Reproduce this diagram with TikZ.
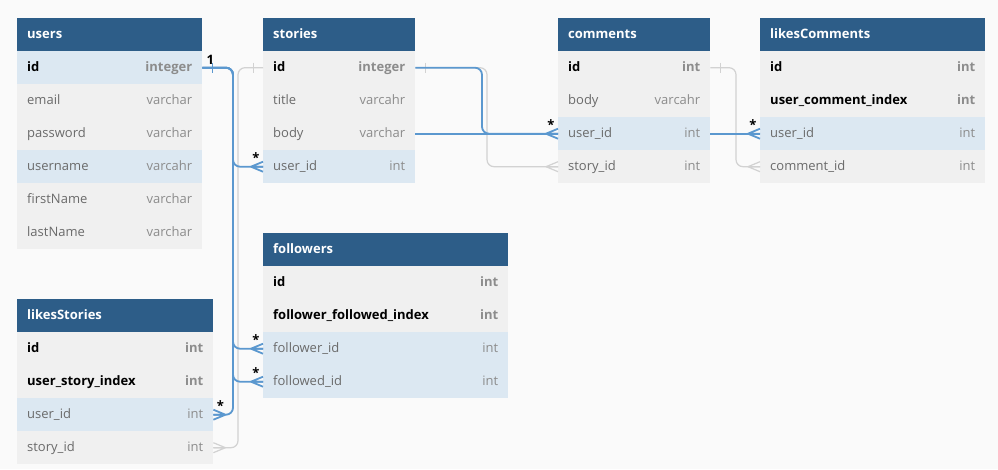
\documentclass[tikz,border=0pt]{standalone}
\usepackage{fontspec}
\setmainfont{Open Sans}
\newcommand\dbfont{\fontsize{13}{16}\selectfont}
\definecolor{headblue}{HTML}{2D5D88}
\definecolor{rowgray}{HTML}{F0F0F0}
\definecolor{rowblue}{HTML}{DCE8F2}
\definecolor{linkblue}{HTML}{5B98CF}
\definecolor{linkgray}{HTML}{D2D2D2}
\definecolor{bgcol}{HTML}{FAFAFA}
\definecolor{fieldgray}{HTML}{6A6A6A}
\definecolor{typegray}{HTML}{8C8C8C}
\tikzset{foot/.pic={\draw (-12,0) -- (0,-5) (-12,0) -- (0,0) (-12,0) -- (0,5);}}

\begin{document}
\begin{tikzpicture}[x=1pt, y=-1pt,
  head/.style={rectangle, fill=headblue, anchor=north west, minimum height=33, inner sep=0pt},
  row/.style={rectangle, fill=rowgray, anchor=north west, minimum height=33, inner sep=0pt},
  hot/.style={row, fill=rowblue},
  title/.style={anchor=mid west, yshift=-1.5pt, text=white, font=\dbfont\bfseries, inner sep=0pt},
  fld/.style={anchor=mid west, yshift=-1.5pt, text=fieldgray, font=\dbfont, inner sep=0pt},
  key/.style={anchor=mid west, yshift=-1.5pt, text=black, font=\dbfont\bfseries, inner sep=0pt},
  typ/.style={anchor=mid east, yshift=-1.5pt, text=typegray, font=\dbfont, inner sep=0pt},
  keytyp/.style={anchor=mid east, yshift=-1.5pt, text=typegray, font=\dbfont\bfseries, inner sep=0pt},
  bluelink/.style={draw=linkblue, line width=1.8pt, rounded corners=7pt},
  graylink/.style={draw=linkgray, line width=1.2pt, rounded corners=7pt},
  card/.style={font=\dbfont\bfseries, inner sep=0pt}]
  \fill[bgcol] (0,0) rectangle (998,469);

  % users
  \node[head, minimum width=185] (users) at (17,18) {};
  \node[title] (users-name) at ([xshift=10pt]users.west) {users};
  \foreach \fn/\ty/\st/\fs/\ts [count=\i] in {id/integer/hot/key/keytyp,
      email/varchar/row/fld/typ, password/varchar/row/fld/typ,
      username/varcahr/hot/fld/typ, firstName/varchar/row/fld/typ,
      lastName/varchar/row/fld/typ}{
    \node[\st, minimum width=185] (users-\i) at (17,{18+33*\i}) {};
    \node[\fs] (users-\i-f) at ([xshift=10pt]users-\i.west) {\fn};
    \node[\ts] (users-\i-t) at ([xshift=-10pt]users-\i.east) {\ty};
  }

  % stories
  \node[head, minimum width=152] (stories) at (263,18) {};
  \node[title] (stories-name) at ([xshift=10pt]stories.west) {stories};
  \foreach \fn/\ty/\st/\fs/\ts [count=\i] in {id/integer/row/key/keytyp,
      title/varcahr/row/fld/typ, body/varchar/row/fld/typ,
      user\_id/int/hot/fld/typ}{
    \node[\st, minimum width=152] (stories-\i) at (263,{18+33*\i}) {};
    \node[\fs] (stories-\i-f) at ([xshift=10pt]stories-\i.west) {\fn};
    \node[\ts] (stories-\i-t) at ([xshift=-10pt]stories-\i.east) {\ty};
  }

  % comments
  \node[head, minimum width=152] (comments) at (558,18) {};
  \node[title] (comments-name) at ([xshift=10pt]comments.west) {comments};
  \foreach \fn/\ty/\st/\fs/\ts [count=\i] in {id/int/row/key/keytyp,
      body/varcahr/row/fld/typ, user\_id/int/hot/fld/typ,
      story\_id/int/row/fld/typ}{
    \node[\st, minimum width=152] (comments-\i) at (558,{18+33*\i}) {};
    \node[\fs] (comments-\i-f) at ([xshift=10pt]comments-\i.west) {\fn};
    \node[\ts] (comments-\i-t) at ([xshift=-10pt]comments-\i.east) {\ty};
  }

  % likesComments
  \node[head, minimum width=225] (likesComments) at (760,18) {};
  \node[title] (likesComments-name) at ([xshift=10pt]likesComments.west) {likesComments};
  \foreach \fn/\ty/\st/\fs/\ts [count=\i] in {id/int/row/key/keytyp,
      user\_comment\_index/int/row/key/keytyp, user\_id/int/hot/fld/typ,
      comment\_id/int/row/fld/typ}{
    \node[\st, minimum width=225] (likesComments-\i) at (760,{18+33*\i}) {};
    \node[\fs] (likesComments-\i-f) at ([xshift=10pt]likesComments-\i.west) {\fn};
    \node[\ts] (likesComments-\i-t) at ([xshift=-10pt]likesComments-\i.east) {\ty};
  }

  % followers
  \node[head, minimum width=245] (followers) at (263,233) {};
  \node[title] (followers-name) at ([xshift=10pt]followers.west) {followers};
  \foreach \fn/\ty/\st/\fs/\ts [count=\i] in {id/int/row/key/keytyp,
      follower\_followed\_index/int/row/key/keytyp, follower\_id/int/hot/fld/typ,
      followed\_id/int/hot/fld/typ}{
    \node[\st, minimum width=245] (followers-\i) at (263,{233+33*\i}) {};
    \node[\fs] (followers-\i-f) at ([xshift=10pt]followers-\i.west) {\fn};
    \node[\ts] (followers-\i-t) at ([xshift=-10pt]followers-\i.east) {\ty};
  }

  % likesStories
  \node[head, minimum width=196] (likesStories) at (17,299) {};
  \node[title] (likesStories-name) at ([xshift=10pt]likesStories.west) {likesStories};
  \foreach \fn/\ty/\st/\fs/\ts [count=\i] in {id/int/row/key/keytyp,
      user\_story\_index/int/row/key/keytyp, user\_id/int/hot/fld/typ,
      story\_id/int/row/fld/typ}{
    \node[\st, minimum width=196] (likesStories-\i) at (17,{299+33*\i}) {};
    \node[\fs] (likesStories-\i-f) at ([xshift=10pt]likesStories-\i.west) {\fn};
    \node[\ts] (likesStories-\i-t) at ([xshift=-10pt]likesStories-\i.east) {\ty};
  }

  \coordinate (ubus) at (233,0);
  \coordinate (sbus) at (238,0);
  \coordinate (cbus) at (482,0);
  \coordinate (gbus) at (487,0);
  \coordinate (lbus) at (736,0);

  % grey links
  \draw[graylink] (stories-1.west) -| (sbus |- likesStories-4.east) -- (likesStories-4.east);
  \draw[graylink] (stories-1.east) -| (gbus |- comments-4.west) -- (comments-4.west);
  \draw[graylink] (comments-1.east) -| (lbus |- likesComments-4.west) -- (likesComments-4.west);
  \draw[linkgray, line width=0.8pt] ([xshift=-10pt]stories-1.west) ++(0,-5) -- ++(0,10);
  \draw[linkgray, line width=0.8pt] ([xshift=10pt]stories-1.east) ++(0,-5) -- ++(0,10);
  \draw[linkgray, line width=0.8pt] ([xshift=10pt]comments-1.east) ++(0,-5) -- ++(0,10);
  \pic[linkgray, line width=1.2pt, xscale=-1] at (likesStories-4.east) {foot};
  \pic[linkgray, line width=1.2pt] at (comments-4.west) {foot};
  \pic[linkgray, line width=1.2pt] at (likesComments-4.west) {foot};

  % blue links
  \draw[bluelink] (users-1.east) -| (ubus |- stories-4.west) -- (stories-4.west);
  \draw[bluelink] (users-1.east) -| (ubus |- followers-3.west) -- (followers-3.west);
  \draw[bluelink] (users-1.east) -| (ubus |- followers-4.west) -- (followers-4.west);
  \draw[bluelink] (users-1.east) -| (ubus |- likesStories-3.east) -- (likesStories-3.east);
  \draw[bluelink] (stories-1.east) -| (cbus |- comments-3.west) -- (comments-3.west);
  \draw[bluelink] (stories-3.east) -- (comments-3.west);
  \draw[bluelink] (comments-3.east) -- (likesComments-3.west);
  \draw[linkblue, line width=1.2pt] ([xshift=10pt]users-1.east) ++(0,-5) -- ++(0,10);
  \foreach \n in {stories-4, followers-3, followers-4, comments-3, likesComments-3}
    \pic[linkblue, line width=1.8pt] at (\n.west) {foot};
  \pic[linkblue, line width=1.8pt, xscale=-1] at (likesStories-3.east) {foot};

  % cardinalities
  \node[card] (one) at ([xshift=8pt,yshift=8pt]users-1.east) {1};
  \node[card] (star-s) at ([xshift=-7pt,yshift=9pt]stories-4.west) {*};
  \node[card] (star-f1) at ([xshift=-7pt,yshift=9pt]followers-3.west) {*};
  \node[card] (star-f2) at ([xshift=-7pt,yshift=9pt]followers-4.west) {*};
  \node[card] (star-c) at ([xshift=-7pt,yshift=9pt]comments-3.west) {*};
  \node[card] (star-lc) at ([xshift=-7pt,yshift=9pt]likesComments-3.west) {*};
  \node[card] (star-ls) at ([xshift=7pt,yshift=9pt]likesStories-3.east) {*};
\end{tikzpicture}
\end{document}
